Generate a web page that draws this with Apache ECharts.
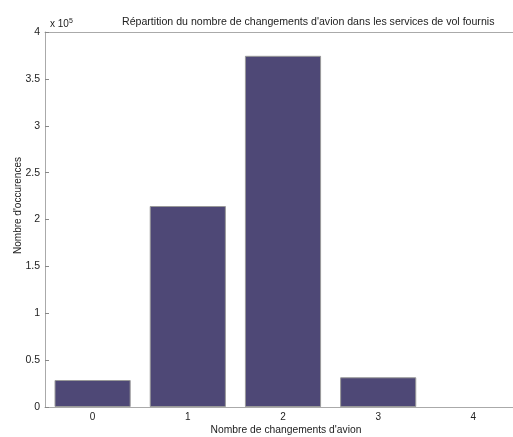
<!DOCTYPE html>
<html><head><meta charset="utf-8">
<script src="https://cdn.jsdelivr.net/npm/echarts@6/dist/echarts.min.js"></script>
<style>html,body{margin:0;padding:0;background:#fff}#c{width:513px;height:437px}</style>
</head><body><div id="c"></div>
<script>
var categories = ['0', '1', '2', '3', '4'];
var counts = [28800, 214400, 374600, 31700, 0];
var yTicks = [0, 50000, 100000, 150000, 200000, 250000, 300000, 350000, 400000];

var font = '"Liberation Sans", Arial, sans-serif';
var chart = echarts.init(document.getElementById('c'), null, {renderer: 'canvas'});
chart.setOption({
  animation: false,
  backgroundColor: '#fff',
  textStyle: {fontFamily: font},
  title: [{
    text: "Répartition du nombre de changements d'avion dans les services de vol fournis",
    left: 117, top: 12,
    textStyle: {fontFamily: font, fontSize: 10.6, fontWeight: 'normal', color: '#222'}
  }, {
    text: 'x 10{s|5}',
    left: 45, top: 13,
    textStyle: {fontFamily: font, fontSize: 10, fontWeight: 'normal', color: '#222',
      rich: {s: {fontSize: 7, verticalAlign: 'top', padding: [0,0,6,0], fontFamily: font, color: '#222'}}}
  }],
  grid: {left: 45, top: 32, width: 476, height: 375, containLabel: false, outerBoundsMode: 'none'},
  xAxis: [{
    type: 'category', data: categories, position: 'bottom',
    boundaryGap: true,
    axisLine: {lineStyle: {color: '#aaa', width: 1}},
    axisTick: {alignWithLabel: true, inside: true, length: 4, lineStyle: {color: '#888'}},
    axisLabel: {color: '#222', fontSize: 10, margin: 5, fontFamily: font},
    name: "Nombre de changements d'avion", nameLocation: 'middle', nameGap: 18, nameMoveOverlap: false,
    nameTextStyle: {color: '#222', fontSize: 10.3, fontFamily: font, padding: [0, 0, 0, 6]}
  }, {
    type: 'category', data: categories, position: 'top',
    boundaryGap: true,
    axisLine: {lineStyle: {color: '#aaa', width: 1}},
    axisTick: {alignWithLabel: true, inside: true, length: 4, lineStyle: {color: '#888'}},
    axisLabel: {show: false}
  }],
  yAxis: [{
    type: 'value', min: 0, max: 400000, interval: 50000,
    axisLine: {show: true, lineStyle: {color: '#aaa', width: 1}},
    axisTick: {show: true, inside: true, length: 4, lineStyle: {color: '#888'}},
    splitLine: {show: false},
    axisLabel: {color: '#222', fontSize: 10.5, margin: 5, fontFamily: font,
      formatter: function (v) { return String(v / 100000); }},
    name: "Nombre d'occurences", nameLocation: 'middle', nameGap: 22, nameMoveOverlap: false,
    nameTextStyle: {color: '#222', fontSize: 10, fontFamily: font, padding: [0, 0, 0, 28]}
  }],
  series: [{
    type: 'bar', xAxisIndex: 0, yAxisIndex: 0,
    data: counts.map(function (v) { return v === 0 ? {value: v, itemStyle: {borderWidth: 0, opacity: 0}} : v; }),
    barWidth: '80%',
    itemStyle: {color: '#4e4876', borderColor: '#999', borderWidth: 1}
  }]
});
</script></body></html>
